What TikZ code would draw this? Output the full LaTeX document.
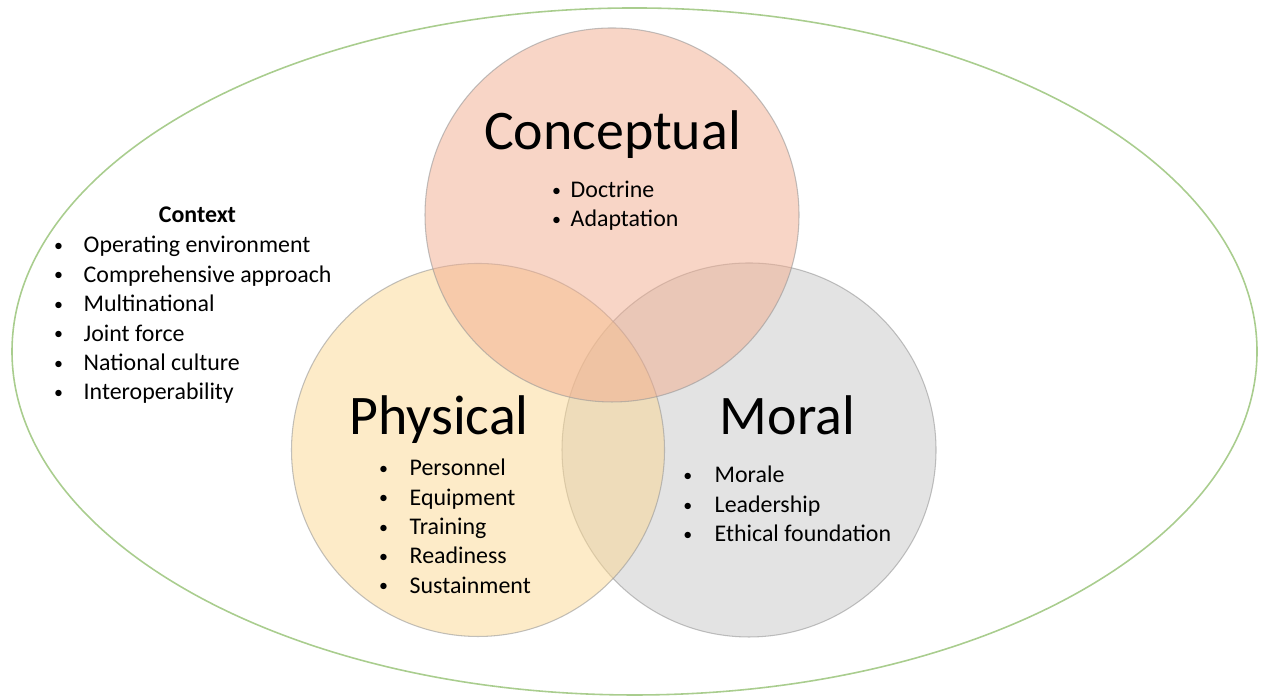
\documentclass[tikz,border=0pt]{standalone}
\usepackage{fontspec}
\setmainfont{Carlito}
\usepackage{tkz-euclide}

\definecolor{concfill}{RGB}{241,171,141}
\definecolor{physfill}{RGB}{251,215,145}
\definecolor{morfill}{RGB}{199,199,199}
\definecolor{ctxline}{RGB}{169,205,142}

\tikzset{
  venn/.style={draw=gray!80, line width=0.3pt, fill opacity=0.5, draw opacity=0.6},
  heading/.style={anchor=base, inner sep=0pt, font=\fontsize{15.9}{19}\selectfont},
  item/.style={anchor=base west, inner sep=0pt, font=\fontsize{6.8}{8}\selectfont},
}
\newcommand{\bul}[2]{\makebox[0pt]{\raisebox{0.06em}{\scalebox{0.75}{\textbullet}}}\hspace{#1}#2}

\begin{document}
\begin{tikzpicture}
    \useasboundingbox (0,0) rectangle (12.62,6.97);
    \tkzDefPoints{6.345/3.455/O, 6.12/4.82/C, 4.78/2.47/P, 7.49/2.47/M}
    % context
    \draw[ctxline, line width=0.45pt] (O) ellipse (6.225 and 3.435);
    % the three circles
    \draw[venn, fill=morfill] (M) circle (1.87);
    \draw[venn, fill=physfill] (P) circle (1.865);
    \draw[venn, fill=concfill] (C) circle (1.87);
    \node[heading] (conc) at (6.125,5.47) {Conceptual};
    \node[heading] (phys) at (4.39,2.62) {Physical};
    \node[heading] (mor) at (7.875,2.62) {Moral};
    \foreach \txt [count=\i] in {Doctrine, Adaptation}
      \node[item] (conc\i) at (5.56,{4.99-(\i-1)*0.29}) {\bul{0.14cm}{\txt}};
    \foreach \txt [count=\i] in {Personnel, Equipment, Training, Readiness, Sustainment}
      \node[item] (phys\i) at (3.83,{2.21-(\i-1)*0.293}) {\bul{0.26cm}{\txt}};
    \foreach \txt [count=\i] in {Morale, Leadership, Ethical foundation}
      \node[item] (mor\i) at (6.87,{2.14-(\i-1)*0.295}) {\bul{0.27cm}{\txt}};
    \node[item, anchor=base, font=\fontsize{6.8}{8}\selectfont\bfseries] (ctx) at (1.975,4.74) {Context};
    \foreach \txt [count=\i] in {Operating environment, Comprehensive approach, Multinational, Joint force, National culture, Interoperability}
      \node[item] (ctx\i) at (0.58,{4.44-(\i-1)*0.294}) {\bul{0.25cm}{\txt}};
\end{tikzpicture}
\end{document}
